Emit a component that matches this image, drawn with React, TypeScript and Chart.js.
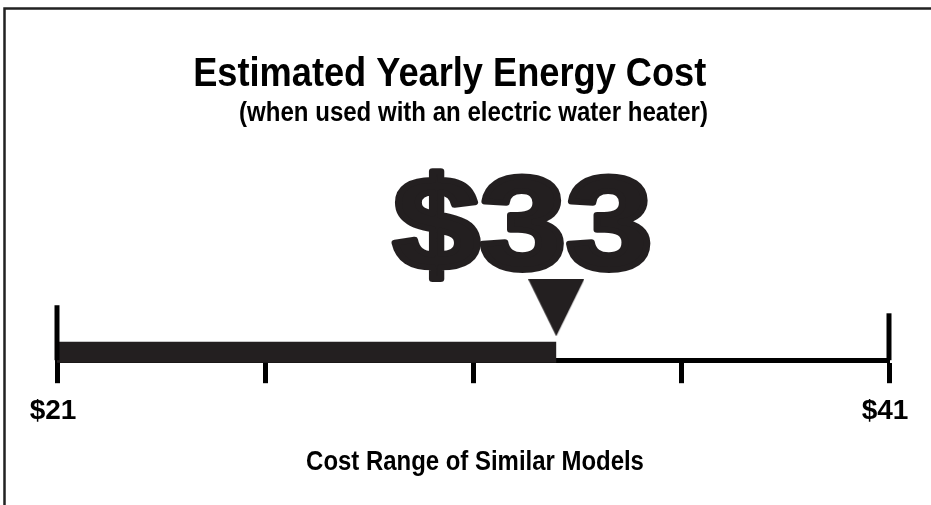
import React, { useEffect, useRef } from 'react';
import { Chart, registerables } from 'chart.js';

Chart.register(...registerables);

// ---------------- data ----------------
const costRange = [21, 41];               // yearly cost range of similar models ($)
const modelCost = [33];                   // this model's estimated yearly energy cost ($)
const tickValues = [21, 26, 31, 36, 41];  // tick marks on the cost range
const tickLabels = ['$21', '', '', '', '$41'];
const titleLines = ['Estimated Yearly Energy Cost', '(when used with an electric water heater)'];
const axisTitle = 'Cost Range of Similar Models';

// ---------------- styling ----------------
const W = 931;
const H = 505;
const INK = '#231f20';
const FONT = "'Liberation Sans', Arial, Helvetica, sans-serif";

// layout levels on the hidden y scale (0 = the range line)
const BAR_LEVEL = 0.8;
const LEFT_CAP_TOP = 5.45;
const RIGHT_CAP_TOP = 4.65;
const MARKER_LEVEL = 5.2;

function drawFitted(
  ctx: CanvasRenderingContext2D,
  text: string,
  font: string,
  left: number,
  right: number,
  baseline: number,
  color: string,
  stroke = 0
) {
  ctx.save();
  ctx.font = font;
  ctx.textAlign = 'left';
  ctx.textBaseline = 'alphabetic';
  const m = ctx.measureText(text);
  const inkW = m.actualBoundingBoxLeft + m.actualBoundingBoxRight;
  const sx = (right - left - stroke) / inkW;
  ctx.translate(left + stroke / 2, baseline - stroke / 2);
  ctx.scale(sx, 1);
  ctx.translate(m.actualBoundingBoxLeft, 0);
  ctx.fillStyle = color;
  ctx.fillText(text, 0, 0);
  if (stroke) {
    ctx.lineWidth = stroke;
    ctx.lineJoin = 'round';
    ctx.strokeStyle = color;
    ctx.strokeText(text, 0, 0);
  }
  ctx.restore();
}

const decorPlugin = {
  id: 'energyDecor',
  beforeDraw(chart: any) {
    const ctx = chart.ctx as CanvasRenderingContext2D;
    ctx.save();
    ctx.strokeStyle = '#222';
    ctx.lineWidth = 2.5;
    ctx.beginPath();
    ctx.moveTo(4.5, H);
    ctx.lineTo(4.5, 8.5);
    ctx.lineTo(W, 8.5);
    ctx.stroke();
    ctx.restore();
  },
  afterDraw(chart: any) {
    const ctx = chart.ctx as CanvasRenderingContext2D;
    const xs = chart.scales.x;
    drawFitted(ctx, titleLines[0], `bold 40px ${FONT}`, 195, 706, 86, '#000');
    drawFitted(ctx, titleLines[1], `bold 27px ${FONT}`, 240, 707, 121, '#000');
    const px = xs.getPixelForValue(modelCost[0]);
    drawFitted(ctx, `$${modelCost[0]}`, `bold 132px ${FONT}`, px - 165, px + 94, 272, INK, 6);
    // axis title, centred under the cost range
    const mid = (xs.left + xs.right) / 2;
    drawFitted(ctx, axisTitle, `bold 27px ${FONT}`, mid - 166, mid + 170, 470, '#000');
  },
};

function makeTriangle(): HTMLCanvasElement {
  const c = document.createElement('canvas');
  c.width = 56;
  c.height = 57;
  const g = c.getContext('2d')!;
  g.fillStyle = INK;
  g.beginPath();
  g.moveTo(0, 0);
  g.lineTo(c.width, 0);
  g.lineTo(c.width / 2, c.height);
  g.closePath();
  g.fill();
  return c;
}

export default function App() {
  const ref = useRef<HTMLCanvasElement | null>(null);

  useEffect(() => {
    document.documentElement.style.overflow = 'hidden';
    document.body.style.overflow = 'hidden';
    const canvas = ref.current;
    if (!canvas) return;
    const tri = makeTriangle();
    const lineDefaults = {
      showLine: true,
      pointRadius: 0,
      borderCapStyle: 'butt' as const,
      tension: 0,
      fill: false,
      clip: false as const,
    };
    const chart = new Chart(canvas, {
      type: 'scatter',
      data: {
        datasets: [
          {
            ...lineDefaults,
            label: 'Lowest cost',
            data: [{ x: costRange[0], y: 0 }, { x: costRange[0], y: LEFT_CAP_TOP }],
            borderColor: '#000',
            borderWidth: 5,
          },
          {
            ...lineDefaults,
            label: 'Highest cost',
            data: [{ x: costRange[1], y: 0 }, { x: costRange[1], y: RIGHT_CAP_TOP }],
            borderColor: '#000',
            borderWidth: 5,
          },
          {
            ...lineDefaults,
            label: 'This model',
            data: [{ x: costRange[0], y: BAR_LEVEL }, { x: modelCost[0], y: BAR_LEVEL }],
            borderColor: INK,
            borderWidth: 21,
          },
          {
            label: 'Marker',
            data: [{ x: modelCost[0], y: MARKER_LEVEL }],
            showLine: false,
            pointStyle: tri as any,
            pointRadius: 30,
            backgroundColor: INK,
            borderColor: INK,
            clip: false as const,
          },
        ],
      },
      options: {
        responsive: false,
        animation: false,
        events: [],
        layout: { padding: { left: 57, right: 42, top: 158.5, bottom: 65.2 } },
        plugins: {
          legend: { display: false },
          tooltip: { enabled: false },
          title: { display: false },
        },
        scales: {
          x: {
            type: 'linear',
            min: costRange[0],
            max: costRange[1],
            afterBuildTicks: (s: any) => {
              s.ticks = tickValues.map((v) => ({ value: v }));
            },
            grid: {
              display: true,
              drawOnChartArea: false,
              drawTicks: true,
              tickLength: 23,
              tickWidth: 5,
              tickColor: '#000',
            },
            border: { display: true, width: 5, color: '#000' },
            ticks: {
              autoSkip: false,
              maxRotation: 0,
              padding: 11.5,
              labelOffset: -4,
              color: '#000',
              font: { family: FONT, size: 28, weight: 'bold' },
              callback: (_v: any, i: number) => tickLabels[i],
            },
            title: { display: false },
          },
          y: { type: 'linear', display: false, min: 0, max: 20 },
        },
      },
      plugins: [decorPlugin],
    } as any);
    return () => chart.destroy();
  }, []);

  return (
    <div style={{ position: 'absolute', left: 0, top: 0, width: W, height: H, background: '#fff' }}>
      <canvas ref={ref} width={W} height={H} style={{ display: 'block' }} />
    </div>
  );
}
